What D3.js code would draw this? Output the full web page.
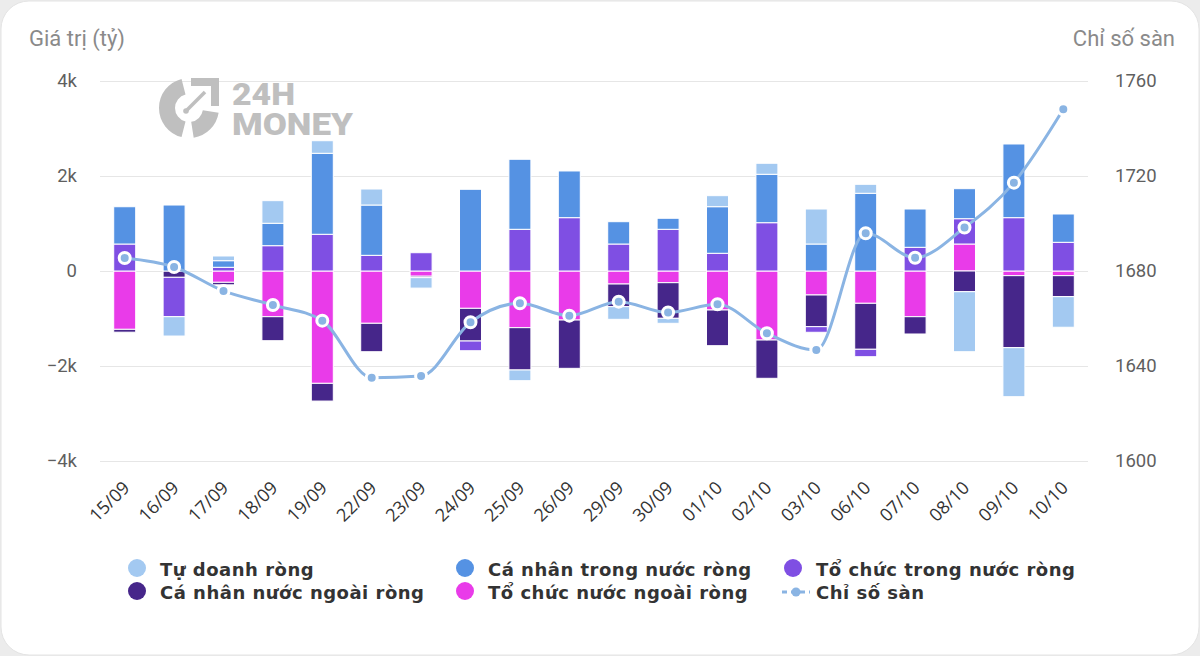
<!DOCTYPE html>
<html>
<head>
<meta charset="utf-8">
<script src="https://cdn.jsdelivr.net/npm/d3@7"></script>
<style>
  html, body { margin: 0; padding: 0; background: #ececec; }
  svg { display: block; }
  .tick-label { font-family: Roboto, "Liberation Sans", sans-serif; font-size: 18.5px; fill: #5f5f5f; }
  .axis-title { font-family: Roboto, "Liberation Sans", sans-serif; font-size: 22px; fill: #8a8a8a; }
  .x-label { font-family: "Open Sans", sans-serif; font-size: 18px; fill: #333; }
  .legend-text { font-family: "DejaVu Sans", sans-serif; font-size: 18px; font-weight: bold; fill: #333; letter-spacing: 0.5px; }
</style>
</head>
<body>
<svg width="1200" height="656"></svg>
<script>
const dates = ['15/09', '16/09', '17/09', '18/09', '19/09', '22/09', '23/09', '24/09', '25/09', '26/09',
  '29/09', '30/09', '01/10', '02/10', '03/10', '06/10', '07/10', '08/10', '09/10', '10/10'];

// giá trị ròng (tỷ đồng)
const tuDoanh = [0, -407, 99, 476, 265, 337, -220, 0, -225, 0, -266, -105, 232, 232, 737, 189, 0, -1263, -1032, -644];
const caNhanTrongNuoc = [785, 1389, 139, 472, 1705, 1059, 0, 1720, 1474, 983, 470, 232, 981, 1019, 568, 1636, 806, 632, 1551, 596];
const toChucTrongNuoc = [568, -829, 78, 533, 773, 330, 385, -204, 878, 1123, 568, 878, 373, 1017, -118, -156, 499, 533, 1123, 604];
const caNhanNuocNgoai = [-60, -133, -53, -505, -373, -598, -30, -688, -891, -1017, -477, -750, -751, -806, -667, -968, -364, -436, -1516, -442];
const toChucNuocNgoai = [-1228, 0, -238, -962, -2365, -1101, -110, -786, -1193, -1032, -274, -246, -821, -1453, -505, -680, -962, 568, -98, -98];

const chiSoSan = [1685.5, 1681.7, 1671.6, 1665.7, 1659.1, 1635.1, 1635.8, 1658.4, 1666.4, 1661.2,
  1667.1, 1662.5, 1666.0, 1653.8, 1646.7, 1695.9, 1685.6, 1698.3, 1717.2, 1748.1];

const leftTicks = [-4000, -2000, 0, 2000, 4000];
const rightTicks = [1600, 1640, 1680, 1720, 1760];

const series = [
  { key: 'tuDoanh', name: 'Tự doanh ròng', color: '#a3c9f1', values: tuDoanh },
  { key: 'caNhanTrongNuoc', name: 'Cá nhân trong nước ròng', color: '#5592e3', values: caNhanTrongNuoc },
  { key: 'toChucTrongNuoc', name: 'Tổ chức trong nước ròng', color: '#7f4fe3', values: toChucTrongNuoc },
  { key: 'caNhanNuocNgoai', name: 'Cá nhân nước ngoài ròng', color: '#46268a', values: caNhanNuocNgoai },
  { key: 'toChucNuocNgoai', name: 'Tổ chức nước ngoài ròng', color: '#e93be9', values: toChucNuocNgoai }
];
const lineColor = '#8ab4e3';

const svg = d3.select('svg');
const width = +svg.attr('width');
const height = +svg.attr('height');

const margin = { top: 81, left: 100, right: 112, bottom: 195 };
const innerWidth = width - margin.left - margin.right;
const innerHeight = height - margin.top - margin.bottom;

// card
svg.append('rect')
  .attr('x', 1).attr('y', 1)
  .attr('width', width - 2).attr('height', height - 2)
  .attr('rx', 28)
  .attr('fill', '#fff')
  .attr('stroke', '#e4e4e4');

const rows = dates.map((d, i) => {
  const r = { date: d };
  series.forEach(s => r[s.key] = s.values[i]);
  return r;
});

// thứ tự xếp chồng tính từ 0 ra ngoài
const stackKeys = ['toChucNuocNgoai', 'caNhanNuocNgoai', 'toChucTrongNuoc', 'caNhanTrongNuoc', 'tuDoanh'];
const stacked = d3.stack()
  .keys(stackKeys)
  .offset(d3.stackOffsetDiverging)(rows);

const xScale = d3.scaleBand()
  .domain(dates)
  .range([0, innerWidth])
  .paddingInner(0.555)
  .paddingOuter(0.2775);

const yScale = d3.scaleLinear()
  .domain([-4000, 4000])
  .range([innerHeight, 0]);

const y2Scale = d3.scaleLinear()
  .domain([1600, 1760])
  .range([innerHeight, 0]);

const g = svg.append('g')
  .attr('transform', `translate(${margin.left},${margin.top})`);

// watermark
const wm = svg.append('g').attr('fill', '#bfbfbf');
const wmArc = d3.arc().innerRadius(14).outerRadius(30);
const icon = wm.append('g').attr('transform', 'translate(189,108)');
icon.append('path').attr('d', wmArc({ startAngle: Math.PI * 1.08, endAngle: Math.PI * 1.92 }));
icon.append('path').attr('d', wmArc({ startAngle: Math.PI * 0.55, endAngle: Math.PI * 0.95 }));
icon.append('path').attr('d', 'M2,-30 L30,-30 L30,-2 L22,-2 L22,-22 L2,-22 Z');
icon.append('line')
  .attr('x1', -3).attr('y1', 3).attr('x2', 16).attr('y2', -16)
  .attr('stroke', '#bfbfbf').attr('stroke-width', 3.5);
icon.append('circle').attr('cx', -3).attr('cy', 3).attr('r', 2.8);
wm.append('text')
  .attr('x', 232).attr('y', 105)
  .attr('textLength', 63).attr('lengthAdjust', 'spacingAndGlyphs')
  .style('font-family', 'Roboto, sans-serif').style('font-weight', 900).style('font-size', '32px')
  .text('24H');
wm.append('text')
  .attr('x', 232).attr('y', 135)
  .attr('textLength', 121).attr('lengthAdjust', 'spacingAndGlyphs')
  .style('font-family', 'Roboto, sans-serif').style('font-weight', 900).style('font-size', '32px')
  .text('MONEY');

// gridlines + left axis
const fmtK = d => d === 0 ? '0' : (d < 0 ? '\u2212' : '') + Math.abs(d / 1000) + 'k';
const yAxisGroup = g.append('g')
  .call(d3.axisLeft(yScale).tickValues(leftTicks).tickFormat(fmtK).tickSize(-innerWidth).tickPadding(23));
yAxisGroup.select('.domain').remove();
yAxisGroup.selectAll('.tick line').attr('stroke', '#e6e6e6');
yAxisGroup.selectAll('.tick text').attr('class', 'tick-label').attr('fill', null);

const y2AxisGroup = g.append('g')
  .attr('transform', `translate(${innerWidth},0)`)
  .call(d3.axisRight(y2Scale).tickValues(rightTicks).tickFormat(d3.format('d')).tickSize(0).tickPadding(27));
y2AxisGroup.select('.domain').remove();
y2AxisGroup.selectAll('.tick text').attr('class', 'tick-label').attr('fill', null);

// x axis labels
const xAxisGroup = g.append('g')
  .attr('transform', `translate(0,${innerHeight})`)
  .call(d3.axisBottom(xScale).tickSize(0));
xAxisGroup.select('.domain').remove();
xAxisGroup.selectAll('.tick text')
  .attr('class', 'x-label')
  .attr('fill', null)
  .attr('text-anchor', 'end')
  .attr('dy', null)
  .attr('y', 0)
  .attr('transform', 'translate(6,28) rotate(-45)');

// axis titles
svg.append('text').attr('class', 'axis-title')
  .attr('x', 29).attr('y', 46).text('Giá trị (tỷ)');
svg.append('text').attr('class', 'axis-title')
  .attr('x', 1175).attr('y', 46).attr('text-anchor', 'end').text('Chỉ số sàn');

// bars
const colorOf = Object.fromEntries(series.map(s => [s.key, s.color]));
g.selectAll('.layer')
  .data(stacked)
  .enter()
  .append('g')
  .attr('class', 'layer')
  .attr('fill', d => colorOf[d.key])
  .selectAll('rect')
  .data(d => d)
  .enter()
  .append('rect')
  .attr('x', d => xScale(d.data.date))
  .attr('width', xScale.bandwidth())
  .attr('y', d => yScale(Math.max(d[0], d[1])))
  .attr('height', d => Math.abs(yScale(d[0]) - yScale(d[1])))
  .attr('stroke', '#fff')
  .attr('stroke-width', 1);

// index line
const cx = (d, i) => xScale(dates[i]) + xScale.bandwidth() / 2;
const line = d3.line()
  .x(cx)
  .y(d => y2Scale(d))
  .curve(d3.curveMonotoneX);

g.append('path')
  .datum(chiSoSan)
  .attr('d', line)
  .attr('fill', 'none')
  .attr('stroke', lineColor)
  .attr('stroke-width', 3);

g.selectAll('.marker')
  .data(chiSoSan)
  .enter()
  .append('circle')
  .attr('class', 'marker')
  .attr('cx', cx)
  .attr('cy', d => y2Scale(d))
  .attr('r', 5.5)
  .attr('fill', lineColor)
  .attr('stroke', '#fff')
  .attr('stroke-width', 3);

// legend
const legendItems = [
  { name: series[0].name, color: series[0].color, type: 'dot' },
  { name: series[1].name, color: series[1].color, type: 'dot' },
  { name: series[2].name, color: series[2].color, type: 'dot' },
  { name: series[3].name, color: series[3].color, type: 'dot' },
  { name: series[4].name, color: series[4].color, type: 'dot' },
  { name: 'Chỉ số sàn', color: lineColor, type: 'line' }
];
const legend = svg.append('g').attr('transform', 'translate(160,576)');
const item = legend.selectAll('.item')
  .data(legendItems)
  .enter()
  .append('g')
  .attr('class', 'item')
  .attr('transform', (d, i) => `translate(${(i % 3) * 328},${Math.floor(i / 3) * 23})`);

item.filter(d => d.type === 'dot')
  .append('circle')
  .attr('cx', -23).attr('cy', -8).attr('r', 9)
  .attr('fill', d => d.color);

const lineItem = item.filter(d => d.type === 'line');
lineItem.append('line')
  .attr('x1', -34).attr('x2', -6).attr('y1', -7).attr('y2', -7)
  .attr('stroke', d => d.color).attr('stroke-width', 3)
  .attr('stroke-dasharray', '5,4');
lineItem.append('circle')
  .attr('cx', -20).attr('cy', -7).attr('r', 4.5)
  .attr('fill', d => d.color);

item.append('text')
  .attr('class', 'legend-text')
  .text(d => d.name);
</script>
</body>
</html>
